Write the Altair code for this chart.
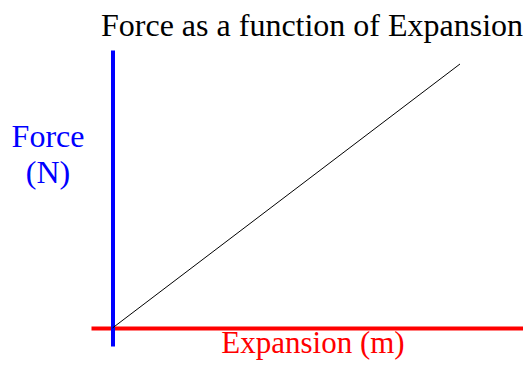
import altair as alt
import pandas as pd

# Data
expansion = [0, 10]
force = [0, 10]

# Text labels
chart_title = "Force as a function of Expansion"
x_label = "Expansion (m)"
y_label = "Force\n(N)"

df = pd.DataFrame({"Expansion": expansion, "Force": force})
label_df = pd.DataFrame({"k": [0]})

SERIF = "Liberation Serif, Times New Roman, Times, serif"

line = alt.Chart(df).mark_line(color="black", strokeWidth=1).encode(
    x=alt.X(
        "Expansion:Q",
        scale=alt.Scale(domain=[-0.619, 11.813], nice=False, zero=False),
        axis=alt.Axis(
            orient="bottom",
            offset=-18,
            domainColor="#ff0000",
            domainWidth=4,
            ticks=False,
            labels=False,
            grid=False,
            title=None,
        ),
    ),
    y=alt.Y(
        "Force:Q",
        scale=alt.Scale(domain=[-0.682, 10.53], nice=False, zero=False),
        axis=alt.Axis(
            orient="left",
            offset=-21.5,
            domainColor="#0000ff",
            domainWidth=4,
            ticks=False,
            labels=False,
            grid=False,
            title=None,
        ),
    ),
)

y_text = alt.Chart(label_df).mark_text(
    font=SERIF,
    fontSize=32,
    color="#0000ff",
    align="center",
    baseline="alphabetic",
    lineBreak="\n",
    lineHeight=36,
).encode(
    x=alt.value(-43),
    y=alt.value(97),
    text=alt.value(y_label),
)

x_text = alt.Chart(label_df).mark_text(
    font=SERIF,
    fontSize=31,
    color="#ff0000",
    align="center",
    baseline="alphabetic",
).encode(
    x=alt.value(222),
    y=alt.value(303),
    text=alt.value(x_label),
)

chart = alt.layer(line, y_text, x_text).properties(
    width=432,
    height=296,
    title=alt.TitleParams(
        chart_title,
        font=SERIF,
        fontSize=32,
        fontWeight="normal",
        color="black",
        anchor="start",
        frame="group",
        dx=10,
        offset=7,
    ),
    autosize=alt.AutoSizeParams(type="none"),
    padding={"left": 83, "top": 42, "right": 0, "bottom": 14},
).configure_view(
    stroke=None
).configure_title(
    font=SERIF
)

chart.save("out.html", embed_options={"renderer": "svg", "actions": False})
